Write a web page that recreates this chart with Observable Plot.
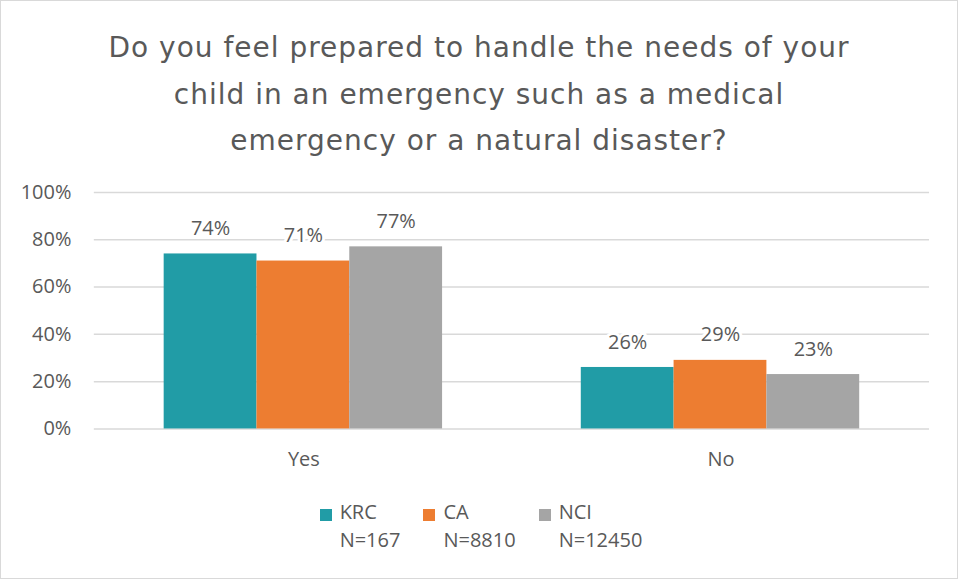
<!DOCTYPE html>
<html>
<head>
<meta charset="utf-8">
<script src="https://cdn.jsdelivr.net/npm/d3@7"></script>
<script src="https://cdn.jsdelivr.net/npm/@observablehq/plot@0.6"></script>
<style>
  html, body { margin: 0; padding: 0; background: #fff; }
  #wrap { position: relative; width: 956px; height: 577px; border: 1px solid #d9d9d9; background: #fff; overflow: hidden;
          font-family: "Open Sans", "Noto Sans", sans-serif; color: #595959; }
  #title { position: absolute; left: 0; top: 24px; width: 956px; text-align: center; font-family: "DejaVu Sans", sans-serif; font-size: 28px; letter-spacing: 1px; line-height: 46.5px; color: #595959; }
  .layer { position: absolute; left: 0; top: 170px; }
  #legend { position: absolute; left: 0; top: 497px; width: 956px; display: flex; justify-content: center; gap: 23px; font-size: 20px; color: #595959; padding-left: 4px; box-sizing: border-box; }
  .item { display: grid; grid-template-columns: 12px auto; column-gap: 8px; line-height: 28px; }
  .sw { width: 12px; height: 12px; margin-top: 11px; }
</style>
</head>
<body>
<div id="wrap">
  <div id="title"></div>
  <div id="base" class="layer"></div>
  <div id="bars" class="layer"></div>
  <div id="legend"></div>
</div>
<script>
const titleLines = ["Do you feel prepared to handle the needs of your", "child in an emergency such as a medical", "emergency or a natural disaster?"];
const categories = ["Yes", "No"];
const series = ["KRC", "CA", "NCI"];
const seriesN = ["N=167", "N=8810", "N=12450"];
const colors = ["#219ca6", "#ed7d31", "#a5a5a5"];
const krcValues = [74, 26];
const caValues = [71, 29];
const nciValues = [77, 23];
const yTicks = [0, 20, 40, 60, 80, 100];

const valuesBySeries = [krcValues, caValues, nciValues];
const data = [];
categories.forEach((c, i) => series.forEach((s, j) => data.push({cat: c, series: s, value: valuesBySeries[j][i]})));

document.getElementById("title").innerHTML = titleLines.join("<br>");

const common = {
  width: 958,
  height: 310,
  marginTop: 21,
  marginBottom: 52,
  marginLeft: 93,
  marginRight: 28,
  style: {fontFamily: '"Open Sans", "Noto Sans", sans-serif', color: "#595959", background: "transparent"},
  y: {domain: [0, 100], label: null}
};

// Base layer: gridlines, y axis and category axis across the whole frame
const base = Plot.plot({
  ...common,
  x: {domain: categories, paddingInner: 1/3, paddingOuter: 1/6, label: null},
  marks: [
    Plot.ruleY(yTicks, {stroke: "#d9d9d9", strokeWidth: 1.5}),
    Plot.axisY(yTicks, {tickSize: 0, tickPadding: 23, tickFormat: d => d + "%", fontSize: 20, fill: "#595959"}),
    Plot.axisX({tickSize: 0, tickPadding: 23, fontSize: 20, fill: "#595959", label: null})
  ]
});
document.getElementById("base").appendChild(base);

// Bar layer: grouped bars faceted by category
const bars = Plot.plot({
  ...common,
  fx: {domain: categories, paddingInner: 1/3, paddingOuter: 1/6, label: null, axis: null},
  x: {domain: series, padding: 0, axis: null},
  color: {domain: series, range: colors},
  marks: [
    Plot.barY(data, {fx: "cat", x: "series", y: "value", fill: "series"}),
    Plot.text(data, {fx: "cat", x: "series", y: "value", text: d => d.value + "%", dy: -19, lineAnchor: "bottom", fontSize: 20, fill: "#595959", stroke: "white", strokeWidth: 6, paintOrder: "stroke"})
  ]
});
bars.querySelectorAll("[aria-label='y-axis tick'], [aria-label='y-axis tick label']").forEach(e => e.remove());
document.getElementById("bars").appendChild(bars);

const legend = document.getElementById("legend");
series.forEach((s, i) => {
  const it = document.createElement("div");
  it.className = "item";
  it.innerHTML = `<div class="sw" style="background:${colors[i]}"></div><div>${s}</div><div></div><div>${seriesN[i]}</div>`;
  legend.appendChild(it);
});
</script>
</body>
</html>
